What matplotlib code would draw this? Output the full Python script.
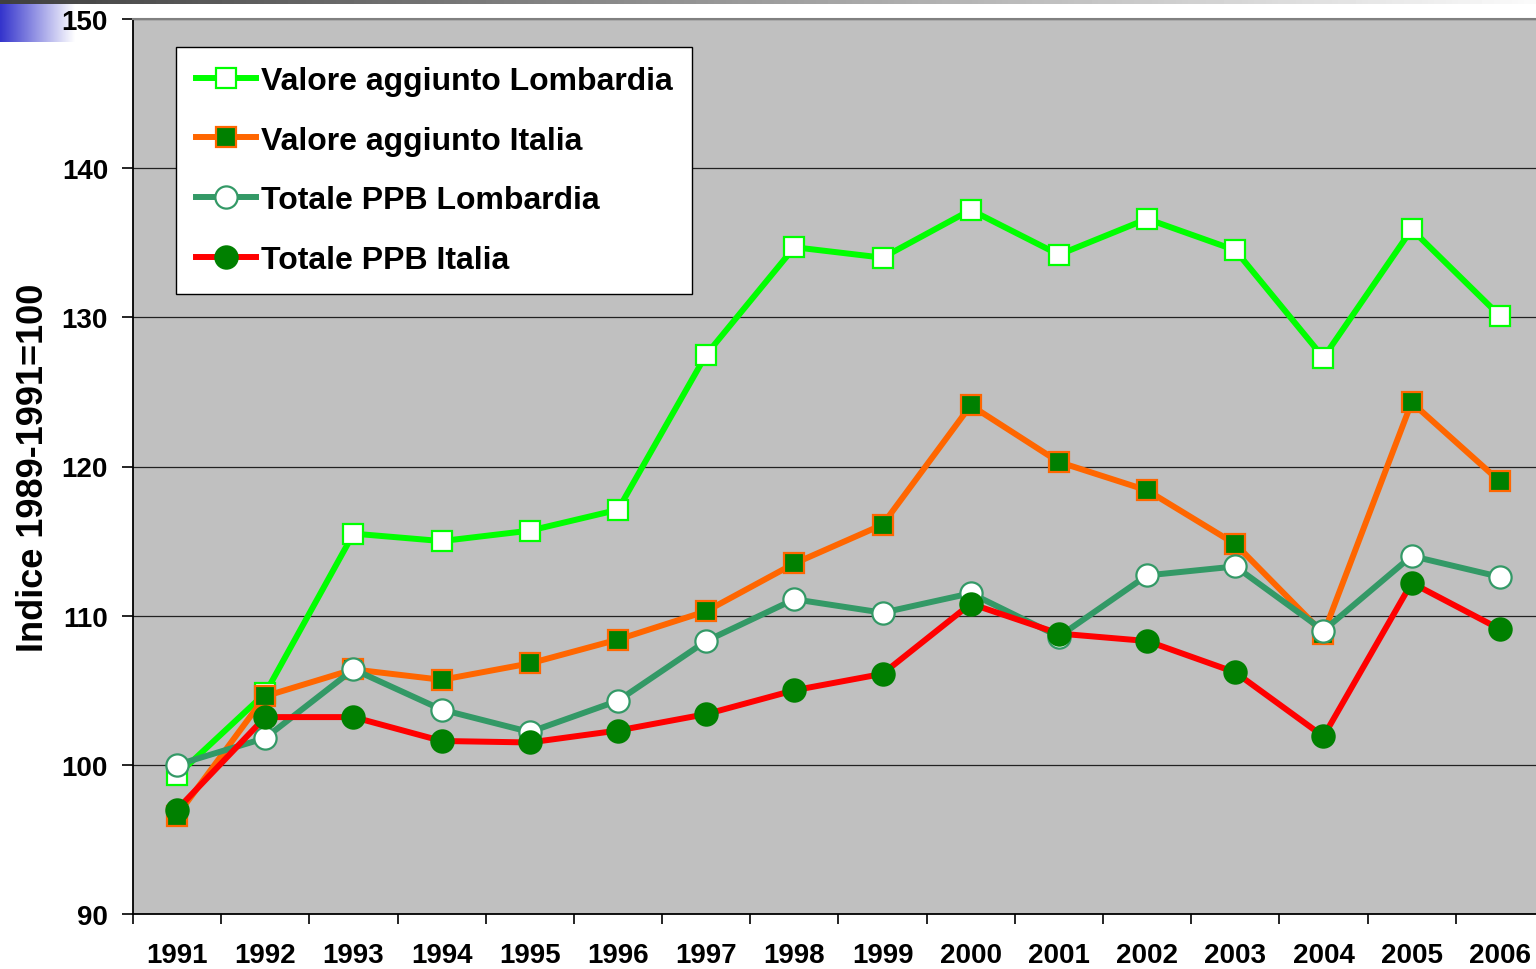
import matplotlib.pyplot as plt
import numpy as np

YEARS = ["1991", "1992", "1993", "1994", "1995", "1996", "1997", "1998",
         "1999", "2000", "2001", "2002", "2003", "2004", "2005", "2006"]

VA_LOMBARDIA = [99.3, 104.8, 115.5, 115.0, 115.7, 117.1, 127.5, 134.7,
                134.0, 137.2, 134.2, 136.6, 134.5, 127.3, 135.9, 130.1]
VA_ITALIA = [96.6, 104.6, 106.4, 105.7, 106.8, 108.4, 110.3, 113.5,
             116.1, 124.1, 120.3, 118.4, 114.8, 108.8, 124.3, 119.0]
PPB_LOMBARDIA = [100.0, 101.8, 106.4, 103.7, 102.2, 104.3, 108.3, 111.1,
                 110.2, 111.5, 108.6, 112.7, 113.3, 109.0, 114.0, 112.6]
PPB_ITALIA = [97.0, 103.2, 103.2, 101.6, 101.5, 102.3, 103.4, 105.0,
              106.1, 110.8, 108.8, 108.3, 106.2, 101.9, 112.2, 109.1]

plt.rcParams["font.family"] = ["Liberation Sans", "DejaVu Sans"]
plt.rcParams["font.weight"] = "bold"

fig = plt.figure(figsize=(15.36, 9.70), dpi=100)

# decorative header: grey band on top, blue gradient block at the left
band = fig.add_axes([0, 1 - 5 / 970, 1, 5 / 970])
band.imshow(np.linspace(0.25, 0.98, 256)[None, :], cmap="gray", aspect="auto",
            vmin=0, vmax=1)
band.axis("off")
blue = fig.add_axes([0, 1 - 43 / 970, 75 / 1536, 38 / 970])
grad = np.linspace(0, 1, 256)
c0 = np.array([0x33, 0x33, 0xCC]) / 255
rgb = c0[None, :] * (1 - grad[:, None]) + grad[:, None]
blue.imshow(rgb[None, :, :], aspect="auto")
blue.axis("off")

ax = fig.add_axes([133 / 1536, 1 - 915 / 970, 1 - 133 / 1536, 895 / 970])
ax.set_facecolor("#C0C0C0")

x = np.arange(len(YEARS))
lw = 4.3
ax.plot(x, VA_LOMBARDIA, color="#00FF00", lw=lw, marker="s", ms=14,
        mfc="white", mec="#00FF00", mew=1.6, label="Valore aggiunto Lombardia", zorder=3)
ax.plot(x, VA_ITALIA, color="#FF6600", lw=lw, marker="s", ms=14,
        mfc="#008000", mec="#FF6600", mew=1.6, label="Valore aggiunto Italia", zorder=4)
ax.plot(x, PPB_LOMBARDIA, color="#339966", lw=lw, marker="o", ms=16,
        mfc="white", mec="#339966", mew=1.6, label="Totale PPB Lombardia", zorder=5)
ax.plot(x, PPB_ITALIA, color="#FF0000", lw=lw, marker="o", ms=16,
        mfc="#008000", mec="#008000", mew=1.6, label="Totale PPB Italia", zorder=6)

ax.set_yticks(range(90, 151, 10))
ax.grid(axis="y", color="#222222", lw=0.9)
ax.set_axisbelow(True)
ax.set_xticks(x)
ax.set_xticklabels(YEARS)
ax.set_xticks(np.arange(-0.5, 15.0, 1), minor=True)
ax.set_ylim(90, 150)
ax.set_xlim(-0.5, 15.41)
ax.tick_params(axis="x", which="major", length=0, pad=20, labelsize=20)
ax.tick_params(axis="x", which="minor", length=7, width=1.2, direction="out")
ax.tick_params(axis="y", length=8, width=1.2, labelsize=20, pad=10)
for lab in ax.get_xticklabels() + ax.get_yticklabels():
    lab.set_fontweight("bold")

ax.spines["right"].set_visible(False)
ax.spines["top"].set_color("#808080")
ax.spines["top"].set_linewidth(1.5)
for s in ["left", "bottom"]:
    ax.spines[s].set_linewidth(1.3)
    ax.spines[s].set_color("black")

ax.set_ylabel("Indice 1989-1991=100", fontsize=26, fontweight="bold", labelpad=8)

leg = ax.legend(loc="upper left", bbox_to_anchor=(0.031, 0.969), fontsize=23,
                frameon=True, fancybox=False, handlelength=1.9, handletextpad=0.15,
                borderpad=0.6, labelspacing=0.93, borderaxespad=0)
leg.get_frame().set_edgecolor("black")
leg.get_frame().set_linewidth(1.0)
leg.get_frame().set_facecolor("white")
leg.get_frame().set_alpha(1)
for t in leg.get_texts():
    t.set_fontweight("bold")

fig.savefig("out.png", dpi=100)
